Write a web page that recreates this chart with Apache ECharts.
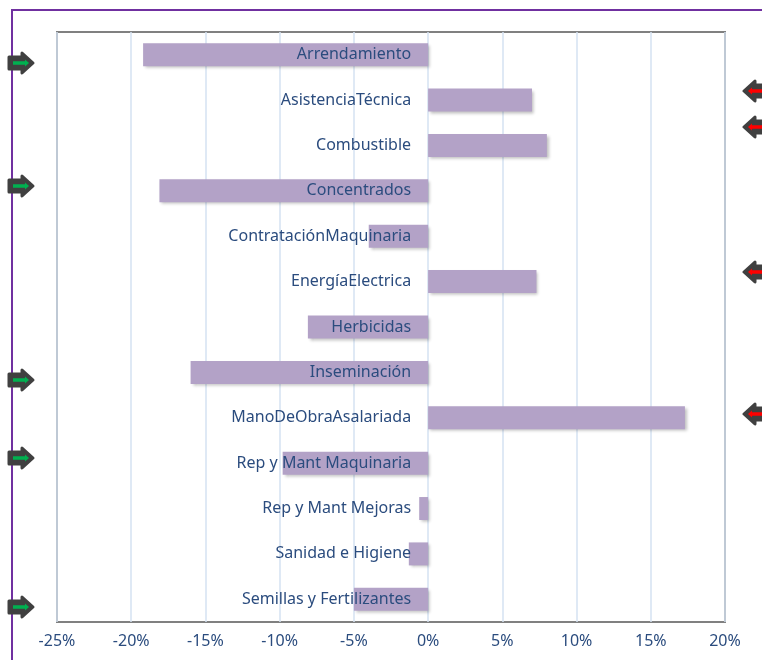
<!DOCTYPE html>
<html>
<head>
<meta charset="utf-8">
<script src="https://cdn.jsdelivr.net/npm/echarts@6/dist/echarts.min.js"></script>
<style>
  html, body { margin: 0; padding: 0; background: #fff; }
  #chart { width: 762px; height: 660px; }
</style>
</head>
<body>
<div id="chart"></div>
<script>
// categories top to bottom
var categories = [
    "Arrendamiento", "AsistenciaTécnica", "Combustible", "Concentrados",
    "ContrataciónMaquinaria", "EnergíaElectrica", "Herbicidas", "Inseminación",
    "ManoDeObraAsalariada", "Rep y Mant Maquinaria", "Rep y Mant Mejoras",
    "Sanidad e Higiene", "Semillas y Fertilizantes"
];
// variation in %
var variacion = [-19.2, 7.0, 8.0, -18.1, -4.0, 7.3, -8.1, -16.0, 17.3, -9.8, -0.6, -1.3, -5.0];
var xTicks = { min: -25, max: 20, step: 5 };

// decorative arrows next to the chart (left = green, right = red)
var leftArrowsY = [63, 186, 380, 458, 607];
var rightArrowsY = [91, 127, 272, 414];

var textColor = "#2B4C7E";
var fontName = "Noto Sans";
var gridColor = "#D5E2F2";

function arrow(x, y, dir, inner) {
    // dark block arrow with a thin coloured arrow inside
    let s = dir;
    return {
        type: 'group',
        x: x, y: y,
        children: [{
            type: 'polygon',
            shape: {
                points: [[0, -6], [13 * s, -6], [13 * s, -10], [24 * s, 0], [13 * s, 10], [13 * s, 6], [0, 6]]
            },
            style: { fill: '#404040', stroke: '#404040', lineWidth: 3, lineJoin: 'round' }
        }, {
            type: 'polyline',
            shape: { points: [[4 * s, 0], [17 * s, 0]] },
            style: { stroke: inner, lineWidth: 3.5 }
        }, {
            type: 'polygon',
            shape: { points: [[16 * s, -3.5], [20 * s, 0], [16 * s, 3.5]] },
            style: { fill: inner }
        }]
    };
}

var chart = echarts.init(document.getElementById('chart'));

var graphics = [{
    type: 'polyline',
    shape: { points: [[12, 660], [12, 10], [762, 10]] },
    style: { stroke: '#7030A0', lineWidth: 2, fill: null }
}];
for (let i = 0; i < leftArrowsY.length; i++) {
    graphics.push(arrow(9, leftArrowsY[i], 1, '#00B050'));
}
for (let i = 0; i < rightArrowsY.length; i++) {
    graphics.push(arrow(768, rightArrowsY[i], -1, '#FF0000'));
}

// category labels sit next to the 0% line, like the Excel original
var labelAnchors = categories.map(function (c) { return [0, c]; });

var option = {
    animation: false,
    textStyle: { fontFamily: fontName },
    grid: {
        left: 57, right: 37, top: 32, bottom: 38,
        outerBoundsMode: 'none', containLabel: false,
        show: true, borderColor: '#808080', borderWidth: 2, backgroundColor: 'transparent'
    },
    xAxis: {
        type: 'value',
        min: xTicks.min, max: xTicks.max, interval: xTicks.step,
        axisLine: { show: false },
        axisTick: { show: false },
        splitLine: { lineStyle: { color: gridColor, width: 1.5 } },
        axisLabel: {
            formatter: '{value}%', color: textColor, fontSize: 16,
            fontFamily: fontName, margin: 11
        }
    },
    yAxis: {
        type: 'category',
        inverse: true,
        data: categories,
        axisLine: { show: false },
        axisTick: { show: false },
        axisLabel: { show: false }
    },
    series: [{
        type: 'bar',
        data: variacion,
        barWidth: 23,
        z: 1,
        itemStyle: {
            color: '#B3A2C7',
            shadowBlur: 3, shadowOffsetX: 2, shadowOffsetY: 2,
            shadowColor: 'rgba(0,0,0,0.25)'
        }
    }, {
        type: 'scatter',
        data: labelAnchors,
        symbolSize: 0,
        z: 5,
        silent: true,
        itemStyle: { opacity: 1 },
        label: {
            show: true,
            position: 'left',
            distance: 17,
            color: textColor,
            fontSize: 16,
            fontFamily: fontName,
            formatter: function (p) { return p.value[1]; }
        }
    }],
    graphic: graphics
};
chart.setOption(option);
</script>
</body>
</html>
